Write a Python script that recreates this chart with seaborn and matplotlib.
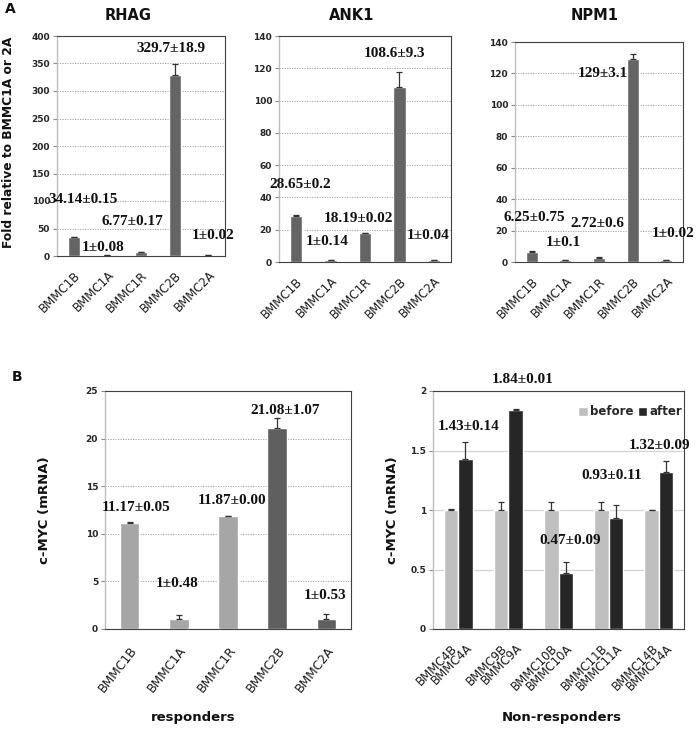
import matplotlib
matplotlib.use("Agg")
import matplotlib.pyplot as plt
import seaborn as sns
import pandas as pd

# ---------------- data ----------------
samples_A = ["BMMC1B", "BMMC1A", "BMMC1R", "BMMC2B", "BMMC2A"]
rhag_vals = [34.14, 1, 6.77, 329.7, 1]
rhag_err = [0.15, 0.08, 0.17, 18.9, 0.02]
rhag_text = ["34.14±0.15", "1±0.08", "6.77±0.17", "329.7±18.9", "1±0.02"]
ank1_vals = [28.65, 1, 18.19, 108.6, 1]
ank1_err = [0.2, 0.14, 0.02, 9.3, 0.04]
ank1_text = ["28.65±0.2", "1±0.14", "18.19±0.02", "108.6±9.3", "1±0.04"]
npm1_vals = [6.25, 1, 2.72, 129, 1]
npm1_err = [0.75, 0.1, 0.6, 3.1, 0.02]
npm1_text = ["6.25±0.75", "1±0.1", "2.72±0.6", "129±3.1", "1±0.02"]

resp_samples = ["BMMC1B", "BMMC1A", "BMMC1R", "BMMC2B", "BMMC2A"]
resp_group = ["BMMC1", "BMMC1", "BMMC1", "BMMC2", "BMMC2"]
resp_vals = [11.17, 1, 11.87, 21.08, 1]
resp_err = [0.05, 0.48, 0.00, 1.07, 0.53]
resp_text = ["11.17±0.05", "1±0.48", "11.87±0.00", "21.08±1.07", "1±0.53"]

pairs = ["BMMC4", "BMMC9", "BMMC10", "BMMC11", "BMMC14"]
phases = ["before", "after"]
before_vals = [1, 1, 1, 1, 1]
before_err = [0.01, 0.07, 0.07, 0.07, 0.0]
after_vals = [1.43, 1.84, 0.47, 0.93, 1.32]
after_err = [0.14, 0.01, 0.09, 0.11, 0.09]
after_text = ["1.43±0.14", "1.84±0.01", "0.47±0.09", "0.93±0.11", "1.32±0.09"]
nonresp_ticklabels = ["BMMC4B", "BMMC4A", "BMMC9B", "BMMC9A", "BMMC10B",
                      "BMMC10A", "BMMC11B", "BMMC11A", "BMMC14B", "BMMC14A"]

# --------- label placement (layout, data coords) ---------
rhag_lab = ([0.27, 0.88, 1.73, 2.9, 4.15], [103, 16, 62, 378, 38])
ank1_lab = ([0.11, 0.9, 1.8, 2.87, 3.83], [47.7, 12.4, 27, 129, 16.7])
npm1_lab = ([0.07, 0.93, 1.94, 2.12, 4.2], [28.6, 12.7, 24.8, 120, 18])
resp_lab = ([0.13, 0.96, 2.08, 3.16, 3.97], [12.8, 4.8, 13.5, 23.0, 3.5])
after_lab = ([0.2, 1.29, 2.23, 3.07, 4.02], [1.70, 2.10, 0.74, 1.29, 1.54])

sns.set_style("white")
plt.rcParams["font.family"] = ["DejaVu Sans"]

fig = plt.figure(figsize=(7.0, 7.29), dpi=100)
W, H = 700.0, 729.0


def add_ax(x0, y0, x1, y1):
    return fig.add_axes([x0 / W, 1 - y1 / H, (x1 - x0) / W, (y1 - y0) / H])


ANN = dict(family="Liberation Serif", fontweight="bold", fontsize=11,
           ha="center", va="center", color="#111111")


def style_axes(ax, ymax, step, grid_dotted=True, xrot=45, xsize=8.5, xpad=9):
    ax.set_ylim(0, ymax)
    ax.set_yticks([i * step for i in range(int(round(ymax / step)) + 1)])
    ax.set_yticklabels([f"{t:g}" for t in ax.get_yticks()],
                       fontsize=6.5, fontweight="bold")
    if grid_dotted:
        ax.yaxis.grid(True, linestyle=(0, (1.5, 1.5)), color="#9a9a9a", lw=0.6)
    else:
        ax.yaxis.grid(True, linestyle="-", color="#d4d4d4", lw=0.9)
    ax.xaxis.grid(False)
    ax.set_axisbelow(True)
    for s in ["top", "right", "bottom"]:
        ax.spines[s].set_visible(True)
        ax.spines[s].set_color("#404040")
        ax.spines[s].set_linewidth(0.8)
    ax.spines["left"].set_color("#bdbdbd")
    ax.spines["left"].set_linewidth(1.0)
    ax.tick_params(axis="y", left=True, length=3, width=0.8, color="#8a8a8a", pad=2)
    ax.tick_params(axis="x", bottom=False, length=0, pad=xpad)
    labels = [t.get_text() for t in ax.get_xticklabels()]
    ax.set_xticks(ax.get_xticks())
    ax.set_xticklabels(labels, rotation=xrot, ha="right", rotation_mode="anchor",
                       fontsize=xsize, color="#1a1a1a")
    ax.set_xlabel("")
    ax.set_ylabel("")


def err_up(ax, xs, vals, errs):
    ax.errorbar(xs, vals, yerr=[[0] * len(errs), errs], fmt="none",
                ecolor="#333333", elinewidth=0.9, capsize=2.5, capthick=0.9)


# ---------------- panel A ----------------
panelA = [
    ("RHAG", rhag_vals, rhag_err, rhag_text, rhag_lab, 400, 50, (57, 36, 225, 256), 128),
    ("ANK1", ank1_vals, ank1_err, ank1_text, ank1_lab, 140, 20, (279, 36, 451, 262), 352),
    ("NPM1", npm1_vals, npm1_err, npm1_text, npm1_lab, 140, 20, (515, 42, 683, 262), 595),
]
for title, vals, errs, texts, lab, ymax, step, box, tx in panelA:
    ax = add_ax(*box)
    df = pd.DataFrame({"sample": samples_A, "value": vals})
    sns.barplot(data=df, x="sample", y="value", color="#646464", saturation=1,
                width=0.36, errorbar=None, ax=ax)
    err_up(ax, range(len(vals)), vals, errs)
    ax.set_xlim(-0.5, len(vals) - 0.5)
    style_axes(ax, ymax, step, xpad=9)
    for x, y, t in zip(lab[0], lab[1], texts):
        ax.text(x, y, t, **ANN)
    fig.text(tx / W, 1 - 16 / H, title, fontsize=10.5, fontweight="bold",
             ha="center", va="center", color="#111111")

fig.text(5 / W, 1 - 9 / H, "A", fontsize=10, fontweight="bold", va="center", color="#111111")
fig.text(9 / W, 1 - 142 / H, "Fold relative to BMMC1A or 2A", rotation=90,
         fontsize=8.8, fontweight="bold", ha="center", va="center", color="#111111")

# ---------------- panel B left ----------------
axL = add_ax(105, 391, 351, 629)
dfL = pd.DataFrame({"sample": resp_samples, "value": resp_vals, "group": resp_group})
sns.barplot(data=dfL, x="sample", y="value", hue="group", dodge=False,
            palette={"BMMC1": "#a6a6a6", "BMMC2": "#5f5f5f"}, saturation=1,
            width=0.4, errorbar=None, legend=False, ax=axL)
err_up(axL, range(len(resp_vals)), resp_vals, resp_err)
axL.set_xlim(-0.5, len(resp_vals) - 0.5)
style_axes(axL, 25, 5, xrot=52, xsize=8.8, xpad=11)
for x, y, t in zip(resp_lab[0], resp_lab[1], resp_text):
    axL.text(x, y, t, **ANN)

# ---------------- panel B right ----------------
axR = add_ax(433, 391, 684, 629)
dfR = pd.DataFrame({
    "pair": pairs * 2,
    "phase": ["before"] * len(pairs) + ["after"] * len(pairs),
    "value": before_vals + after_vals,
})
sns.barplot(data=dfR, x="pair", y="value", hue="phase", hue_order=phases,
            palette={"before": "#bfbfbf", "after": "#262626"}, saturation=1,
            width=0.58, errorbar=None, ax=axR)
centers = {}
for cont, ph in zip(axR.containers, phases):
    centers[ph] = [p.get_x() + p.get_width() / 2 for p in cont.patches]
err_up(axR, centers["before"], before_vals, before_err)
err_up(axR, centers["after"], after_vals, after_err)
axR.set_xlim(-0.5, len(pairs) - 0.5)
ticks = []
for b, a in zip(centers["before"], centers["after"]):
    ticks += [b, a]
axR.set_xticks(ticks)
axR.set_xticklabels(nonresp_ticklabels)
style_axes(axR, 2, 0.5, grid_dotted=False, xrot=45, xsize=8.5, xpad=9)
for x, y, t in zip(after_lab[0], after_lab[1], after_text):
    axR.text(x, y, t, clip_on=False, **ANN)
leg = axR.legend(loc="center right", bbox_to_anchor=(1.01, 0.912), frameon=False,
                 ncol=2, handlelength=0.8, handleheight=0.8, handletextpad=0.15,
                 columnspacing=0.4, borderaxespad=0,
                 prop={"weight": "bold", "size": 8.5})

fig.text(12 / W, 1 - 377 / H, "B", fontsize=10, fontweight="bold", va="center", color="#111111")
fig.text(45 / W, 1 - 510 / H, "c-MYC (mRNA)", rotation=90, fontsize=9.5,
         fontweight="bold", ha="center", va="center", color="#111111")
fig.text(392 / W, 1 - 510 / H, "c-MYC (mRNA)", rotation=90, fontsize=9.5,
         fontweight="bold", ha="center", va="center", color="#111111")
fig.text(193 / W, 1 - 718 / H, "responders", fontsize=9.5, fontweight="bold",
         ha="center", va="center", color="#111111")
fig.text(562 / W, 1 - 718 / H, "Non-responders", fontsize=9.5, fontweight="bold",
         ha="center", va="center", color="#111111")

fig.savefig("out.png", dpi=100)
